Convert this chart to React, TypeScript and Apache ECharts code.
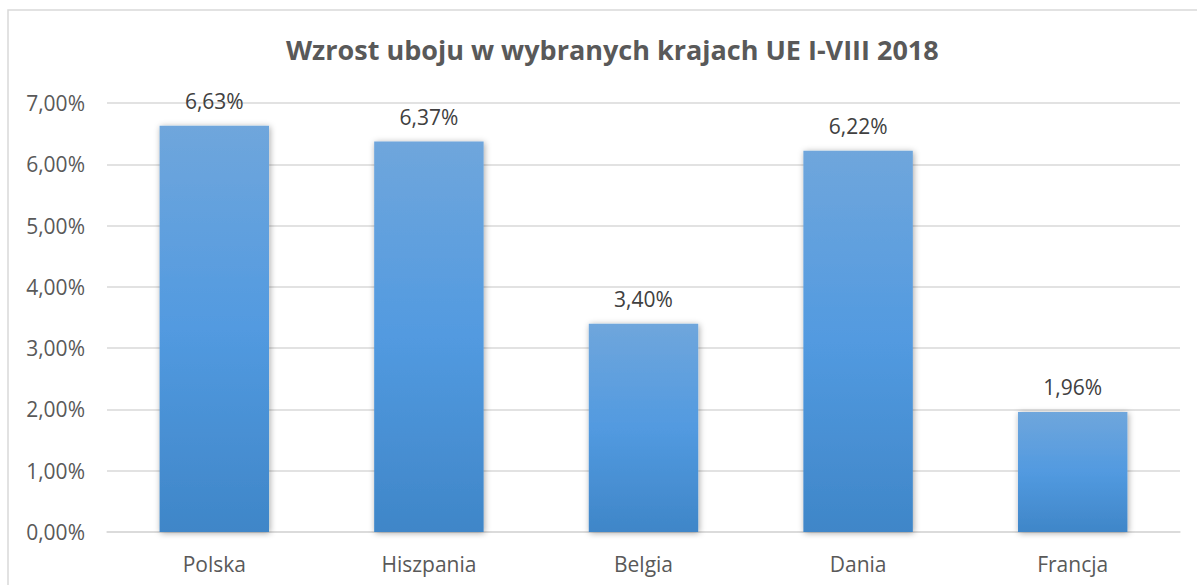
import React, { useEffect, useRef } from "react";
import * as echarts from "echarts";

const categories = ["Polska", "Hiszpania", "Belgia", "Dania", "Francja"];
const values = [6.63, 6.37, 3.4, 6.22, 1.96];
const titleText = "Wzrost uboju w wybranych krajach UE I-VIII 2018";

const fmt = (v: number) => v.toFixed(2).replace(".", ",") + "%";

export default function App() {
  const ref = useRef<HTMLDivElement>(null);
  useEffect(() => {
    const chart = echarts.init(ref.current!, undefined, { renderer: "svg" });
    chart.setOption({
      animation: false,
      backgroundColor: "#ffffff",
      textStyle: { fontFamily: "'Open Sans', sans-serif" },
      title: {
        text: titleText,
        left: 281,
        top: 31,
        textStyle: { fontSize: 27, fontWeight: "bold", color: "#595959", fontFamily: "'Open Sans', sans-serif" },
      },
      graphic: [
        {
          type: "rect",
          shape: { x: 8, y: 10, width: 1220, height: 620 },
          style: { fill: "none", stroke: "#d9d9d9", lineWidth: 1.5 },
          silent: true,
        },
      ],
      grid: { left: 107, right: 17, top: 103, bottom: 53 },
      xAxis: {
        type: "category",
        data: categories,
        axisLine: { lineStyle: { color: "#d9d9d9", width: 1.5 } },
        axisTick: { show: false },
        axisLabel: { color: "#595959", fontSize: 21, margin: 21, fontFamily: "'Open Sans', sans-serif" },
      },
      yAxis: {
        type: "value",
        min: 0,
        max: 7,
        interval: 1,
        axisLine: { show: false },
        axisTick: { show: false },
        splitLine: { lineStyle: { color: "#d9d9d9", width: 1.5 } },
        axisLabel: {
          color: "#595959",
          fontSize: 21,
          margin: 22,
          fontFamily: "'Open Sans', sans-serif",
          formatter: (v: number) => fmt(v),
        },
      },
      series: [
        {
          type: "bar",
          data: values,
          barWidth: "51%",
          itemStyle: {
            color: new echarts.graphic.LinearGradient(0, 0, 0, 1, [
              { offset: 0, color: "#6fa6dc" },
              { offset: 0.5, color: "#529ae0" },
              { offset: 1, color: "#3f86c8" },
            ]),
            shadowBlur: 6,
            shadowColor: "rgba(0,0,0,0.35)",
            shadowOffsetX: 1,
            shadowOffsetY: 1,
          },
          label: {
            show: true,
            position: "top",
            distance: 14,
            color: "#404040",
            fontSize: 21,
            fontFamily: "'Open Sans', sans-serif",
            formatter: (p: any) => fmt(p.value),
          },
        },
      ],
    });
    return () => chart.dispose();
  }, []);
  return (
    <div
      ref={ref}
      style={{ position: "absolute", left: 0, top: 0, width: 1197, height: 585 }}
    />
  );
}
